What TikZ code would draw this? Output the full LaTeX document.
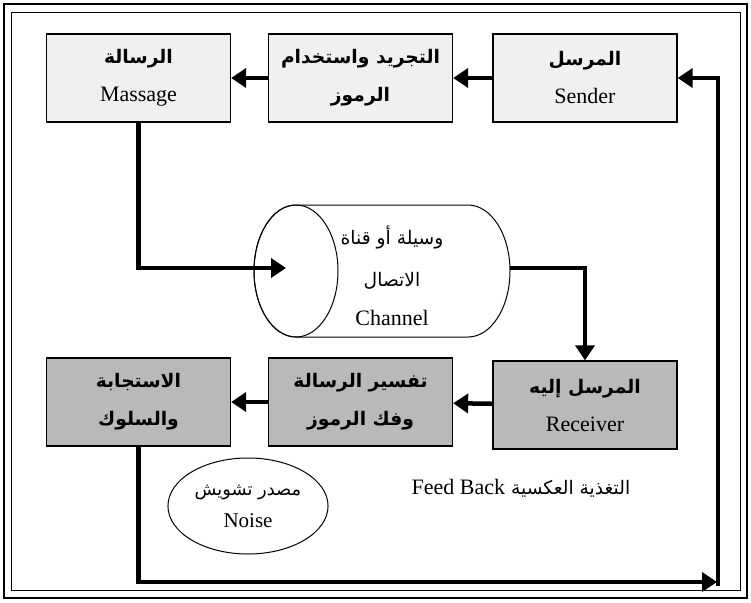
\documentclass[tikz,border=0pt]{standalone}
\usepackage{fontspec}
\setmainfont{Liberation Serif}
\newfontfamily\arabicfont[Script=Arabic,Scale=0.85]{DejaVu Sans}
\TeXXeTstate=1
\usetikzlibrary{arrows.meta,shapes.geometric}
\newcommand\artxt[1]{{\arabicfont\beginR #1\endR}}
\newcommand\arbold[1]{{\arabicfont\bfseries\beginR #1\endR}}

\tikzset{
  box/.style={draw, line width=1.3pt, minimum width=184pt, minimum height=88pt,
    inner sep=0pt, align=center, font=\fontsize{22}{38}\selectfont},
  topbox/.style={box, fill=gray!12},
  lowbox/.style={box, fill=gray!55},
  conn/.style={line width=4.5pt, -{Triangle[length=15pt,width=19pt]}},
  lbl/.style={align=center, inner sep=0pt, font=\fontsize{22}{24}\selectfont},
}

\begin{document}
\begin{tikzpicture}[x=1pt, y=-1pt]
\useasboundingbox (0,0) rectangle (751,602);
% double frame
\draw[line width=2.4pt] (4,4) rectangle (747,598);
\draw[line width=0.9pt] (11,12) rectangle (740,590);

% top row
\node[topbox] (msg) at (138.5,78) {\arbold{الرسالة}\\Massage};
\node[topbox] (enc) at (360.5,78) {\arbold{التجريد واستخدام}\\\arbold{الرموز}};
\node[topbox] (snd) at (585,78) {\arbold{المرسل}\\Sender};

% bottom row
\node[lowbox] (resp) at (138.5,402) {\arbold{الاستجابة}\\\arbold{والسلوك}};
\node[lowbox] (intp) at (360.5,402) {\arbold{تفسير الرسالة}\\\arbold{وفك الرموز}};
\node[lowbox] (rcv) at (585,405) {\arbold{المرسل إليه}\\Receiver};

% channel cylinder: body with rounded back end, then the front face
\filldraw[fill=white, line width=1pt]
  (296,205) -- (468,205) arc[start angle=-90, end angle=90, x radius=42, y radius=66]
  -- (296,337) arc[start angle=90, end angle=270, x radius=42, y radius=66] -- cycle;
\draw[line width=1pt] (296,271) ellipse[x radius=42, y radius=66];
\node[lbl] (chA) at (392,237) {\artxt{وسيلة أو قناة}};
\node[lbl] (chB) at (392,281) {\artxt{الاتصال}};
\node[lbl] (chC) at (392,318) {Channel};
\coordinate (chin) at (286,268);
\coordinate (chout) at (510,268);

% noise source
\node[draw, ellipse, line width=1pt, minimum width=116pt, minimum height=96pt,
  align=center, font=\fontsize{21}{32}\selectfont] (noise) at (248,506)
  {\artxt{مصدر تشويش}\\Noise};

% feedback label
\node[lbl] (fb) at (521,488) {\artxt{التغذية العكسية \beginL{\rmfamily Feed Back}\endL}};

% connectors
\draw[conn] (snd) -- (enc);
\draw[conn] (enc) -- (msg);
\draw[conn] (msg.south) |- (chin);
\draw[conn] (chout) -| (rcv.north);
\draw[conn] (rcv) -- (intp);
\draw[conn] (intp) -- (resp);
\coordinate (fbend) at (717,582);
\coordinate (fbfoot) at (718,586);
\draw[conn] (resp.south) |- (fbend);
\draw[conn] (fbfoot) |- (snd.east);
\end{tikzpicture}
\end{document}
